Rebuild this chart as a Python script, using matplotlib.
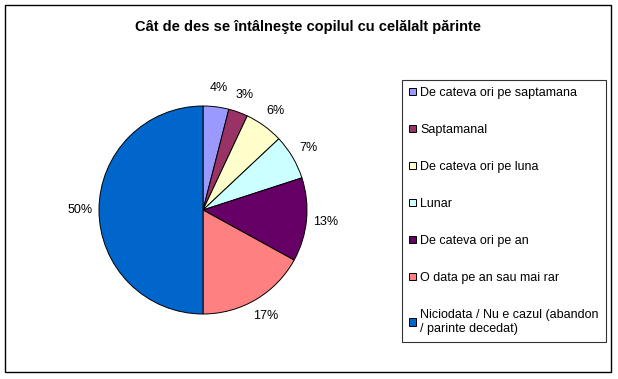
import matplotlib.pyplot as plt
from matplotlib.patches import Patch, Rectangle

plt.rcParams['font.family'] = ['Liberation Sans', 'DejaVu Sans']

categories = [
    "De cateva ori pe saptamana",
    "Saptamanal",
    "De cateva ori pe luna",
    "Lunar",
    "De cateva ori pe an",
    "O data pe an sau mai rar",
    "Niciodata / Nu e cazul (abandon\n/ parinte decedat)",
]
values = [4, 3, 6, 7, 13, 17, 50]
colors = ["#9999FF", "#993366", "#FFFFCC", "#CCFFFF", "#660066", "#FF8080", "#0066CC"]
title = "Cât de des se întâlneşte copilul cu celălalt părinte"

W, H = 618, 379
fig = plt.figure(figsize=(W / 100, H / 100), dpi=100)

# outer chart border
fig.add_artist(Rectangle((5 / W, (H - 372) / H), 606 / W, 367 / H,
                         transform=fig.transFigure, fill=False,
                         edgecolor="black", linewidth=1.0))

fig.text(308 / W, 1 - 27 / H, title, ha="center", va="center",
         fontsize=10.5, fontweight="bold")

# pie: centre (203, 210), radius 104 px
cx, cy, r = 203, 210, 104
ax = fig.add_axes([(cx - r) / W, (H - cy - r) / H, 2 * r / W, 2 * r / H])
wedges, texts = ax.pie(values, colors=colors, startangle=90, counterclock=False,
                       labels=[f"{v}%" for v in values], labeldistance=1.18,
                       wedgeprops=dict(edgecolor="black", linewidth=0.7),
                       textprops=dict(fontsize=9))
for t in texts:
    t.set_horizontalalignment("center")
    t.set_verticalalignment("center")
ax.set_xlim(-1, 1)
ax.set_ylim(-1, 1)
ax.set_aspect("equal")

handles = [Patch(facecolor=c, edgecolor="black", linewidth=0.7) for c in colors]
leg = fig.legend(handles, categories, loc="upper left",
                 bbox_to_anchor=(402 / W, 1 - 80 / H),
                 fontsize=9, frameon=True, fancybox=False, shadow=False,
                 handlelength=0.6, handleheight=0.6, handletextpad=0.3,
                 labelspacing=2.0, borderpad=0.55, borderaxespad=0)
leg.get_frame().set_edgecolor("black")
leg.get_frame().set_linewidth(0.8)

fig.savefig("out.png", dpi=100)
